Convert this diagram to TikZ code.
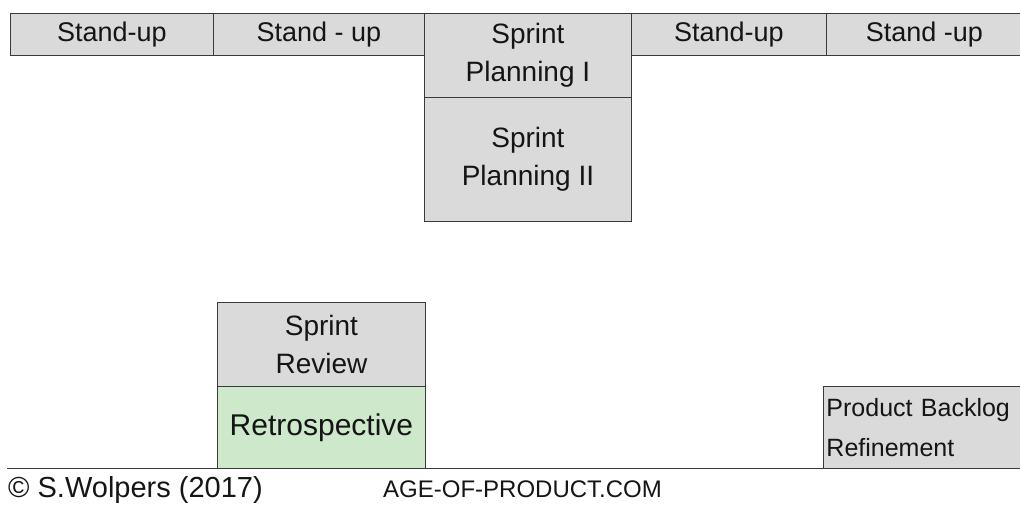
\documentclass[tikz,border=0pt]{standalone}
\usepackage{fontspec}
\setmainfont{Liberation Sans}
\definecolor{pencil}{HTML}{DADADA}
\definecolor{greenpencil}{HTML}{CDE8CB}
\definecolor{ink}{HTML}{151515}
\definecolor{edge}{HTML}{3A3A3A}
\begin{document}
\begin{tikzpicture}[x=1pt,y=-1pt,
  box/.style={draw=edge, line width=0.9pt, fill=pencil, anchor=north west, inner sep=0pt,
              text=ink, font=\fontsize{28}{38}\selectfont, align=center},
  standup/.style={box, font=\fontsize{27}{30}\selectfont, minimum height=42pt},
  greenbox/.style={box, fill=greenpencil},
  foot/.style={anchor=base west, inner sep=0pt, text=ink}]
\useasboundingbox (0,0) rectangle (1020,506);
% top row of stand-ups
\node[standup, minimum width=203pt] (su1) at (10,13) {Stand-up};
\node[standup, minimum width=211pt] (su2) at (213,13) {Stand - up};
\node[box, minimum width=207pt, minimum height=84pt] (sp1) at (424,13) {Sprint\\Planning I};
\node[box, minimum width=207pt, minimum height=124pt] (sp2) at (424,97) {Sprint\\Planning II};
\node[standup, minimum width=195pt] (su3) at (631,13) {Stand-up};
\node[standup, minimum width=196pt] (su4) at (826,13) {Stand -up};
% bottom
\node[box, minimum width=208pt, minimum height=84pt] (rev) at (217,302) {Sprint\\Review};
\node[greenbox, minimum width=208pt, minimum height=82pt, font=\fontsize{30}{34}\selectfont] (retro) at (217,386) {Retrospective};
\node[box, minimum width=199pt, minimum height=82pt, align=left, text width=193pt,
      font=\fontsize{25}{40}\selectfont] (pbr) at (823,386) {Product Backlog\\Refinement};
\coordinate (bl) at (7,468);
\coordinate (br) at (1020,468);
\draw[edge, line width=0.9pt] (bl) -- (br);
\node[foot, font=\fontsize{29}{32}\selectfont] (copy) at (8,497) {© S.Wolpers (2017)};
\node[foot, font=\fontsize{24}{28}\selectfont] (site) at (383,497) {AGE-OF-PRODUCT.COM};
\end{tikzpicture}
\end{document}
